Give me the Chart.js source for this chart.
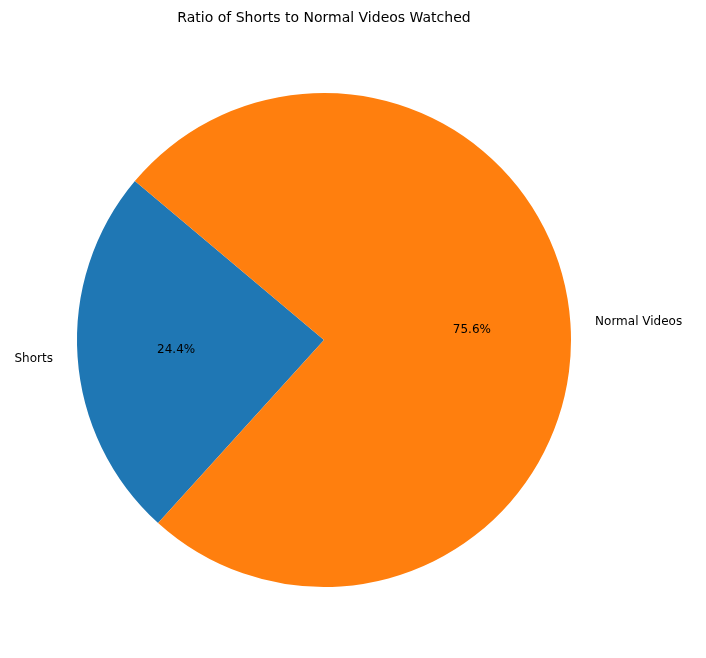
<!DOCTYPE html>
<html>
<head>
<meta charset="utf-8">
<script src="https://cdn.jsdelivr.net/npm/chart.js@4"></script>
<style>
  html, body { margin: 0; padding: 0; background: #fff; }
  #wrap { width: 706px; height: 658px; }
</style>
</head>
<body>
<div id="wrap"><canvas id="pie"></canvas></div>
<script>
const categories = ['Shorts', 'Normal Videos'];
const shares = [24.4, 75.6];
const colors = ['#1f77b4', '#ff7f0e'];
const chartTitle = 'Ratio of Shorts to Normal Videos Watched';

// matplotlib-style labels: percent inside at 0.6r, name outside at 1.1r
const pieLabels = {
    id: 'pieLabels',
    afterDatasetsDraw(chart) {
        const ctx = chart.ctx;
        ctx.save();
        ctx.font = '12px "DejaVu Sans", sans-serif';
        ctx.fillStyle = '#000';
        ctx.textBaseline = 'middle';
        chart.getDatasetMeta(0).data.forEach((arc, i) => {
            const mid = (arc.startAngle + arc.endAngle) / 2;
            const cos = Math.cos(mid), sin = Math.sin(mid);
            ctx.textAlign = 'center';
            ctx.fillText(shares[i].toFixed(1) + '%', arc.x + cos * arc.outerRadius * 0.6, arc.y + sin * arc.outerRadius * 0.6);
            ctx.textAlign = cos < 0 ? 'right' : 'left';
            ctx.fillText(categories[i], arc.x + cos * arc.outerRadius * 1.1, arc.y + sin * arc.outerRadius * 1.1);
        });
        ctx.font = '14px "DejaVu Sans", sans-serif';
        ctx.textAlign = 'center';
        ctx.fillText(chartTitle, 324, 18);
        ctx.restore();
    }
};

new Chart(document.getElementById('pie'), {
    type: 'pie',
    data: {
        labels: categories,
        datasets: [{
            data: shares,
            backgroundColor: colors,
            borderWidth: 0
        }]
    },
    options: {
        responsive: true,
        maintainAspectRatio: false,
        animation: false,
        rotation: -137.8,
        layout: { padding: { left: 77, right: 135, top: 93, bottom: 71 } },
        plugins: {
            legend: { display: false },
            tooltip: { enabled: false },
            title: { display: false }
        }
    },
    plugins: [pieLabels]
});
</script>
</body>
</html>
